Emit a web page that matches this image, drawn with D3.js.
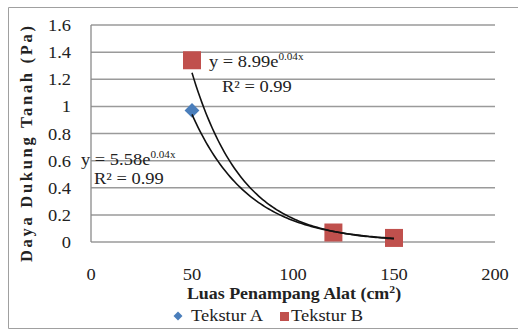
<!DOCTYPE html>
<html><head><meta charset="utf-8">
<script src="https://cdn.jsdelivr.net/npm/d3@7"></script>
<style>body{margin:0;background:#fff}svg{display:block}</style>
</head><body>
<svg id="c" width="518" height="335" font-family="'Liberation Serif', 'Times New Roman', Times, serif"></svg>
<script>
const xValues = [50, 120, 150];
const teksturA = [0.97, 0.06, 0.03];
const teksturB = [1.34, 0.07, 0.03];
const xTicks = [0, 50, 100, 150, 200];
const yTicks = [0, 0.2, 0.4, 0.6, 0.8, 1, 1.2, 1.4, 1.6];
// exponential trendlines y = a*e^(b*x), drawn over the data range
const trendA = {a: 5.58, b: -0.0356};
const trendB = {a: 8.99, b: -0.0395};
const trendRange = [50, 150];

const svg = d3.select("#c");
const x = d3.scaleLinear().domain([0, 200]).range([91, 495]);
const y = d3.scaleLinear().domain([0, 1.6]).range([242, 25]);
const ink = "#222";
const SX = 1.12; // horizontal stretch of the reference's text

svg.append("path").attr("d","M520,7.5H8.5V328.5H520").attr("fill","none").attr("stroke","#a0a0a0").attr("stroke-width",1);

svg.append("g").selectAll("line").data(yTicks).join("line")
  .attr("x1", x(0)).attr("x2", x(200)).attr("y1", d=>y(d)).attr("y2", d=>y(d))
  .attr("stroke","#9a9a9a").attr("stroke-width",1.5);
svg.append("line").attr("x1",x(0)).attr("x2",x(0)).attr("y1",y(1.6)).attr("y2",y(0)).attr("stroke","#8a8a8a").attr("stroke-width",1.3);

svg.append("g").selectAll("text").data(yTicks).join("text")
  .attr("transform", d=>`translate(71,${y(d)+6}) scale(${SX},1)`).attr("text-anchor","end").attr("fill",ink)
  .attr("font-size",16.5).text(d=>d3.format("~g")(d));
svg.append("g").selectAll("text").data(xTicks).join("text")
  .attr("transform", d=>`translate(${x(d)},280) scale(${SX},1)`).attr("text-anchor","middle").attr("fill",ink)
  .attr("font-size",16.5).text(d=>d);

svg.append("text").attr("transform","translate(32,144) rotate(-90)").attr("text-anchor","middle").attr("fill",ink)
  .attr("font-size",16.5).attr("font-weight","bold").attr("textLength",236).attr("lengthAdjust","spacing")
  .text("Daya Dukung Tanah (Pa)");
const xt = svg.append("text").attr("transform",`translate(294,299) scale(${SX},1)`).attr("text-anchor","middle").attr("fill",ink)
  .attr("font-size",16).attr("font-weight","bold");
xt.append("tspan").text("Luas Penampang  Alat (cm");
xt.append("tspan").attr("dy",-6).attr("font-size",10.5).text("2");
xt.append("tspan").attr("dy",6).text(")");

const data = xValues.map((v,i)=>({x:v, a:teksturA[i], b:teksturB[i]}));
svg.append("g").selectAll("path").data(data).join("path")
  .attr("d", d3.symbol().type(d3.symbolSquare).size(110))
  .attr("transform", d=>`translate(${x(d.x)},${y(d.a)}) rotate(45)`)
  .attr("fill","#4a7ebb");
svg.append("g").selectAll("rect").data(data).join("rect")
  .attr("x", d=>x(d.x)-9).attr("y", d=>y(d.b)-9).attr("width",18).attr("height",18)
  .attr("fill","#c0504d");

const line = d3.line().x(d=>x(d[0])).y(d=>y(d[1]));
function trendPts(t){ const pts=[]; for(let v=trendRange[0]; v<=trendRange[1]+1e-9; v+=1) pts.push([v, t.a*Math.exp(t.b*v)]); return pts; }
[trendA, trendB].forEach(t=>{
  svg.append("path").attr("d", line(trendPts(t))).attr("fill","none").attr("stroke","#111").attr("stroke-width",1.6);
});

function eq(xp, yp, coef){
  const t = svg.append("text").attr("transform",`translate(${xp},${yp}) scale(${SX},1)`).attr("font-size",16.5).attr("fill",ink);
  t.append("tspan").text("y = "+coef+"e");
  t.append("tspan").attr("dy",-7).attr("font-size",10).text("0.04x");
}
function r2(xp, yp){
  svg.append("text").attr("transform",`translate(${xp},${yp}) scale(${SX},1)`).attr("font-size",16.5).attr("fill",ink).text("R² = 0.99");
}
eq(209, 67, "8.99"); r2(222, 92);
eq(81, 165, "5.58"); r2(94, 184);

svg.append("path").attr("d", d3.symbol().type(d3.symbolSquare).size(40)).attr("transform","translate(178,316) rotate(45)").attr("fill","#4a7ebb");
svg.append("text").attr("transform",`translate(191,321) scale(${SX},1)`).attr("font-size",16.5).attr("fill",ink).text("Tekstur A");
svg.append("rect").attr("x",280).attr("y",312).attr("width",9).attr("height",9).attr("fill","#c0504d");
svg.append("text").attr("transform",`translate(291,321) scale(${SX},1)`).attr("font-size",16.5).attr("fill",ink).text("Tekstur B");
</script>
</body></html>
